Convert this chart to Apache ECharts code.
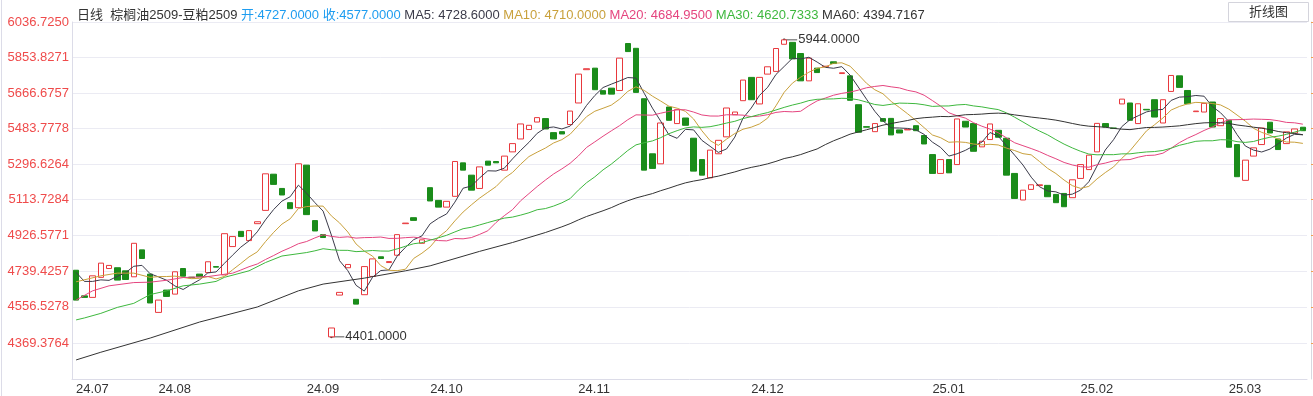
<!DOCTYPE html>
<html><head><meta charset="utf-8">
<script src="https://cdn.jsdelivr.net/npm/echarts@6/dist/echarts.min.js"></script>
<style>html,body{margin:0;padding:0;background:#fff;}#c{width:1313px;height:396px;}</style>
</head><body><div id="c"></div>
<script>
// ---- data ----
const monthLabels = [[0,'24.07'],[10,'24.08'],[28,'24.09'],[43,'24.10'],[61,'24.11'],[82,'24.12'],[104,'25.01'],[122,'25.02'],[140,'25.03']];
const opens = [4747,4614,4606,4710,4756,4760,4744,4713,4853,4727,
4528,4644,4623,4756,4711,4727,4735,4766,4723,4870,
4949,4901,4989,5058,5246,5172,5098,5072,5293,5005,
4932,4401,4618,4760,4596,4620,4715,4817,4787,4825,
4989,5020,4887,5176,5110,5075,5131,5305,5241,5172,
5314,5312,5267,5362,5429,5478,5517,5535,5462,5467,
5504,5616,5789,5797,5680,5693,5681,5925,5900,5638,
5352,5300,5595,5509,5538,5433,5322,5227,5352,5440,
5555,5628,5749,5611,5766,5780,5921,5931,5873,5731,
5797,5804,5830,5769,5757,5607,5493,5467,5535,5536,
5476,5476,5498,5447,5348,5250,5322,5296,5521,5509,
5388,5426,5474,5433,5250,5112,5167,5187,5188,5141,
5146,5124,5224,5270,5362,5509,5486,5611,5616,5509,
5583,5633,5512,5676,5757,5681,5571,5569,5621,5498,
5526,5400,5214,5340,5400,5516,5429,5405,5460,5490];
const closes = [4592,4606,4718,4784,4772,4696,4699,4887,4808,4577,
4592,4611,4739,4716,4708,4713,4791,4763,4937,4922,
4922,4953,4999,5248,5193,5138,5067,5300,5036,4951,
4917,4447,4632,4777,4571,4766,4806,4808,4792,4932,
4992,5006,4905,5107,5075,5105,5312,5267,5163,5284,
5293,5305,5340,5405,5507,5500,5540,5481,5429,5455,
5574,5766,5794,5685,5662,5662,5849,5883,5671,5267,
5276,5512,5526,5581,5500,5262,5241,5371,5422,5590,
5569,5735,5633,5749,5804,5899,5944,5845,5731,5849,
5774,5807,5821,5773,5630,5464,5490,5509,5521,5450,
5460,5479,5472,5403,5250,5322,5253,5533,5491,5365,
5417,5507,5438,5241,5120,5163,5191,5191,5129,5098,
5077,5217,5296,5345,5510,5491,5484,5636,5526,5612,
5580,5543,5633,5759,5697,5612,5574,5614,5491,5535,
5386,5233,5319,5383,5486,5460,5374,5466,5481,5472];
const ma5 = [4736,4689,4689,4697,4694.4,4715.2,4733.8,4767.6,4772.4,4728.6,
4712.6,4695,4665.4,4647,4673.2,4697.4,4733.4,4738.2,4782.4,4825.2,
4867,4899.4,4946.6,5008.8,5063,5106.2,5129,5189.2,5146.8,5098.4,
5054.2,4930.2,4796.6,4744.8,4668.8,4638.6,4710.4,4745.6,4748.6,4820.8,
4866,4906,4925.4,4988.4,5017,5039.6,5100.8,5173.2,5184.4,5226.2,
5263.8,5262.4,5277,5325.4,5370,5411.4,5458.4,5486.6,5491.4,5481,
5495.8,5541,5603.6,5654.8,5696.2,5713.8,5730.4,5748.2,5745.4,5666.4,
5589.2,5521.8,5450.4,5432.4,5479,5476.2,5422,5391,5359.2,5377.2,
5438.6,5537.4,5589.8,5655.2,5698,5764,5805.8,5848.2,5844.6,5853.6,
5828.6,5801.2,5796.4,5804.8,5761,5699,5635.6,5573.2,5522.8,5486.8,
5486,5483.8,5476.4,5452.8,5412.8,5385.2,5340,5352.2,5369.8,5392.8,
5411.8,5462.6,5443.6,5393.6,5344.6,5293.8,5230.6,5181.2,5158.8,5154.4,
5137.2,5142.4,5163.4,5206.6,5289,5371.8,5425,5493,5529.2,5549.6,
5569.6,5579.2,5582.8,5629.4,5646.4,5648.8,5655,5651.2,5597.6,5565.2,
5520,5451.8,5392.8,5371.2,5361.4,5376.2,5404.4,5433.8,5453.4,5450.6];
const ma10 = [4687,null,null,4718,null,4732,null,4732,null,4710,
4713.9,4714.4,4716.5,4709.7,4703.3,4705,4714.2,4701.8,4714.7,4749.2,
4782.2,4816.4,4842.4,4895.6,4944.1,4986.6,5014.2,5067.9,5077.8,5080.7,
5080.2,5029.6,4992.9,4945.8,4883.6,4846.4,4820.3,4771.1,4746.7,4744.8,
4752.3,4808.2,4835.5,4868.5,4918.9,4952.8,5003.4,5049.3,5086.4,5121.6,
5151.7,5181.6,5225.1,5254.9,5298.1,5337.6,5360.4,5381.8,5408.4,5425.5,
5453.6,5499.7,5545.1,5573.1,5588.6,5604.8,5635.7,5675.9,5700.1,5681.3,
5651.5,5626.1,5599.3,5588.9,5572.7,5532.7,5471.9,5420.7,5395.8,5428.1,
5457.4,5479.7,5490.4,5507.2,5537.6,5601.3,5671.6,5719,5749.9,5775.8,
5796.3,5803.5,5822.3,5824.7,5807.3,5763.8,5718.4,5684.8,5663.8,5623.9,
5592.5,5559.7,5524.8,5487.8,5449.8,5435.6,5411.9,5414.3,5411.3,5402.8,
5398.5,5401.3,5397.9,5381.7,5368.7,5352.8,5346.6,5312.4,5276.2,5249.5,
5215.5,5186.5,5172.3,5182.7,5221.7,5254.5,5283.7,5328.2,5367.9,5419.3,
5470.8,5503.4,5537.9,5579.3,5598,5611.3,5619.2,5617,5613.5,5605.8,
5584.4,5553.4,5522,5484.4,5463.3,5448.1,5428.1,5413.3,5412.3,5406];
const ma20 = [4592,null,4640,null,4666,null,null,4683,null,4685,
null,4695,null,4709,null,null,4714,null,4726,4731.6,
4748.1,4765.4,4779.5,4802.7,4823.7,4845.8,4864.2,4884.9,4896.3,4915,
4931.2,4923,4917.7,4920.7,4913.9,4916.5,4917.3,4919.5,4912.3,4912.8,
4916.3,4918.9,4914.2,4907.2,4901.3,4899.6,4911.9,4910.2,4916.6,4933.2,
4952,4994.9,5030.3,5061.7,5108.5,5145.2,5181.9,5215.6,5247.4,5273.6,
5302.7,5340.7,5385.1,5414,5443.4,5471.2,5498.1,5528.9,5554.3,5553.4,
5552.6,5562.9,5572.2,5581,5580.7,5568.8,5553.8,5548.3,5548,5554.7,
5554.5,5552.9,5544.9,5548.1,5555.2,5567,5571.8,5569.9,5572.9,5602,
5626.9,5641.6,5656.4,5666,5672.5,5682.6,5695,5701.9,5706.9,5699.9,
5694.4,5681.6,5673.6,5656.3,5628.6,5599.7,5565.2,5549.6,5537.6,5513.4,
5495.5,5480.5,5461.4,5434.8,5409.3,5394.2,5379.3,5363.4,5343.8,5326.2,
5307,5293.9,5285.1,5282.2,5295.2,5303.7,5315.2,5320.3,5322.1,5334.4,
5343.2,5345,5355.1,5381,5409.9,5432.9,5452.1,5473.2,5491.3,5513.2,
5528.6,5529.4,5530.6,5532.5,5531.3,5529.7,5523.7,5515.2,5512.9,5505.9];
const ma30 = [4489,4499,null,4523,null,4554,null,4575,null,4620.7,
null,4640,null,4666,null,4675,null,4689,4710,null,
null,4744,null,4787,null,4821,null,null,4839,4847.9,
4858.8,4853.5,4850.6,4850.4,4843.7,4846,4849.6,4846.9,4846.4,4858.2,
4871.6,4884.7,4890.3,4903.3,4915.5,4928.6,4946,4962.8,4970.3,4982.4,
4994.7,5006.5,5017.8,5023.1,5033.5,5045.6,5061.4,5067.4,5080.5,5097.3,
5119.2,5163.2,5201.9,5232.2,5268.5,5298.4,5333.2,5369,5398.3,5409.5,
5418.9,5435.8,5456.5,5472.3,5486.5,5491.7,5489.3,5492.8,5501.4,5511.6,
5520.8,5535.2,5544.9,5556.4,5566.3,5579.6,5593.1,5605.2,5615.3,5628.4,
5635.1,5636.4,5637.3,5640.3,5639.2,5632.6,5620.6,5608.2,5603.2,5609.3,
5615.4,5614.3,5612.5,5606.6,5598.2,5600.2,5600.6,5606,5608.3,5600.8,
5595.8,5588.2,5581.7,5564.7,5541.9,5517.4,5492.3,5470.5,5450.4,5425.4,
5402.2,5382.5,5365,5350.7,5346.7,5347.6,5347.4,5351.6,5351.8,5357.2,
5361.6,5363.7,5369.4,5381.2,5396.1,5406.2,5416.9,5419.6,5419.6,5425.3,
5424.2,5415.1,5411.1,5415.9,5428.1,5438,5443.7,5452.8,5464.6,5477,];
const ma60 = [4281,null,null,4321,null,null,null,null,null,4394.7,
null,null,null,null,null,4478,null,null,null,null,
null,null,4556,null,null,null,null,4640,null,null,
4675,null,null,null,null,4706,null,null,null,null,
4744,null,null,4770,null,null,null,null,null,4845,
null,null,null,4891,null,null,null,4943,null,4972.6,
4989,5008.4,5026.3,5041.3,5056.1,5072.2,5091.4,5108,5122.4,5133.9,
5145.3,5160.3,5173.4,5187.8,5201,5210.2,5217.7,5227.8,5235.9,5247,
5257.8,5270.9,5281.4,5289.8,5299.9,5312.6,5327.3,5336.3,5347.9,5362.9,
5377.2,5399.8,5419.6,5436.3,5453.9,5465.5,5476.9,5488.6,5500.8,5509.4,
5517.2,5525.1,5534.5,5539.5,5542.4,5546,5545,5549.4,5554.9,5556.2,
5558.3,5561.7,5563.3,5560.6,5554.1,5548.5,5542.7,5537.9,5532.9,5526.9,
5518.7,5509.5,5501.2,5495.5,5493,5490.1,5484,5479.9,5477.5,5483.3,
5488.6,5489.2,5491,5493.9,5497.2,5503.2,5508.8,5512.8,5514,5513.1,
5510,5501.7,5496.4,5490.3,5485,5477.7,5468,5461.7,5457.5,5451.2];
const yTicks = [4369.3764,4556.5278,4739.4257,4926.5771,5113.7284,5296.6264,5483.7778,5666.6757,5853.8271,6036.7250];
const yMin = 4182, yMax = 6036.725;
const headerName = ['日线', '棕榈油2509-豆粕2509'];
const headerOpen = 4727, headerClose = 4577;
const headerMA = [['MA5',4728.6],['MA10',4710.0],['MA20',4684.95],['MA30',4620.7333],['MA60',4394.7167]];

// ---- build ----
const FONT = '"Liberation Sans", Arial, "Noto Sans CJK SC", sans-serif';
const UP = '#e8383d', DOWN = '#1a8c1a';
const maColors = ['#3b3b4a', '#c9a13c', '#e5457f', '#3eb83e', '#333333'];
const n = opens.length;
const categories = new Array(n).fill('');
monthLabels.forEach(([i, t]) => { categories[i] = t; });
const candles = opens.map((o, i) => { const c = closes[i]; return [o, c, Math.min(o, c), Math.max(o, c)]; });
const fit = a => a.slice(0, n);

const chart = echarts.init(document.getElementById('c'), null, {renderer: 'canvas', width: 1313, height: 396});
const maSeries = [ma5, ma10, ma20, ma30, ma60].map((d, k) => ({
  type: 'line', data: fit(d), symbol: 'none', connectNulls: true, silent: true,
  lineStyle: {width: 1, color: maColors[k]}, z: 3
}));
const hdrRich = {
  a: {color: '#333', fontSize: 13, fontFamily: FONT},
  b: {color: '#1e9df0', fontSize: 13, fontFamily: FONT},
  m0: {color: maColors[0], fontSize: 13, fontFamily: FONT},
  m1: {color: maColors[1], fontSize: 13, fontFamily: FONT},
  m2: {color: maColors[2], fontSize: 13, fontFamily: FONT},
  m3: {color: maColors[3], fontSize: 13, fontFamily: FONT},
  m4: {color: maColors[4], fontSize: 13, fontFamily: FONT}
};
let hdr = '{a|' + headerName[0] + '  ' + headerName[1] + '} {b|开:' + headerOpen.toFixed(4) + ' 收:' + headerClose.toFixed(4) + '}';
headerMA.forEach(([k, v], j) => { hdr += ' {m' + j + '|' + k + ': ' + v.toFixed(4) + '}'; });

chart.setOption({
  animation: false,
  backgroundColor: '#fff',
  textStyle: {fontFamily: FONT},
  title: {text: hdr, left: 72, top: 4, textStyle: {fontSize: 13, fontWeight: 'normal', rich: hdrRich}},
  grid: {left: 72, right: 6, top: 22, bottom: 16},
  xAxis: {
    type: 'category', data: categories, boundaryGap: true,
    axisLine: {lineStyle: {color: '#dcdce8'}}, axisTick: {show: false},
    axisLabel: {interval: (i, v) => v !== '', align: 'left', color: '#333', fontSize: 13, margin: 4, fontFamily: FONT},
    splitLine: {show: false}
  },
  yAxis: [{
    type: 'value', min: yMin, max: yMax, position: 'left',
    axisLine: {show: true, lineStyle: {color: '#dcdce8'}},
    axisTick: {show: false, customValues: yTicks},
    axisLabel: {customValues: yTicks, formatter: v => v.toFixed(4), color: '#ef4b4b', fontSize: 13, margin: 3, fontFamily: FONT},
    splitLine: {show: true, lineStyle: {color: '#ebebf3'}}
  }, {
    type: 'value', min: yMin, max: yMax, position: 'right', offset: 4,
    axisLine: {show: true, lineStyle: {color: '#d8d8e0'}},
    axisTick: {show: true, length: 2, lineStyle: {color: '#f0a050'}, customValues: yTicks},
    axisLabel: {show: false}, splitLine: {show: false}
  }],
  series: [{
    type: 'candlestick', data: candles, barWidth: 6, silent: true,
    itemStyle: {color: '#ffffff', color0: DOWN, borderColor: UP, borderColor0: DOWN, borderWidth: 1}
  }].concat(maSeries)
});

// extreme labels, placed through the library's coordinate conversion
const highs = candles.map(c => c[3]), lows = candles.map(c => c[2]);
const iMax = highs.indexOf(Math.max(...highs)), iMin = lows.indexOf(Math.min(...lows));
const mk = (idx, val) => {
  const p = chart.convertToPixel({gridIndex: 0}, [idx, val]);
  return [
    {type: 'circle', shape: {cx: p[0], cy: p[1], r: 1.3}, style: {fill: '#333'}, silent: true},
    {type: 'line', shape: {x1: p[0], y1: p[1], x2: p[0] + 13, y2: p[1]}, style: {stroke: '#555', lineWidth: 1}, silent: true},
    {type: 'text', x: p[0] + 14, y: p[1], style: {text: val.toFixed(4), fill: '#333', font: '13px ' + FONT, verticalAlign: 'middle'}, silent: true}
  ];
};
chart.setOption({
  graphic: [
    {type: 'line', shape: {x1: 1.5, y1: 0, x2: 1.5, y2: 396}, style: {stroke: '#dcdce8', lineWidth: 1}, silent: true},
    {type: 'rect', shape: {x: 1228.5, y: 2.5, width: 80, height: 19}, style: {fill: '#fff', stroke: '#d4d4dc', lineWidth: 1}, silent: true},
    {type: 'text', x: 1268.5, y: 12, style: {text: '折线图', fill: '#333', font: '13px ' + FONT, align: 'center', verticalAlign: 'middle'}, silent: true}
  ].concat(mk(iMax, highs[iMax]), mk(iMin, lows[iMin]))
});
</script></body></html>
